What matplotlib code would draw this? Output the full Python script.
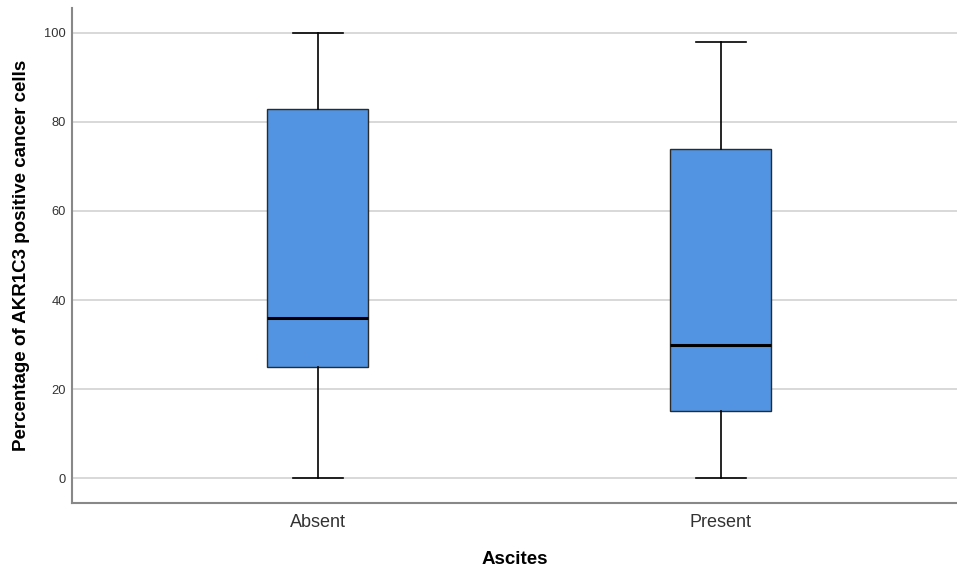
import matplotlib.pyplot as plt

plt.rcParams['font.family'] = ['Liberation Sans', 'DejaVu Sans']

# Ascites groups and their box summaries (% AKR1C3 positive cancer cells)
groups = ['Absent', 'Present']
whisker_low = [0, 0]
q1 = [25, 15]
median = [36, 30]
q3 = [83, 74]
whisker_high = [100, 98]

stats = []
for i, name in enumerate(groups):
    stats.append({
        'label': name,
        'whislo': whisker_low[i],
        'q1': q1[i],
        'med': median[i],
        'q3': q3[i],
        'whishi': whisker_high[i],
        'fliers': [],
    })

fig = plt.figure(figsize=(9.57, 5.70), dpi=100)
ax = fig.add_axes([0.0752, 0.1175, 0.9248, 0.8685])

ax.bxp(stats, positions=[1, 2], widths=0.25, capwidths=0.125,
       showfliers=False, patch_artist=True,
       boxprops=dict(facecolor='#5294e2', edgecolor='#2b2b2b', linewidth=1.0),
       medianprops=dict(color='black', linewidth=2.2),
       whiskerprops=dict(color='black', linewidth=1.2),
       capprops=dict(color='black', linewidth=1.2))

ax.set_xlim(0.39, 2.586)
ax.set_ylim(-5.6, 105.6)
ax.set_yticks([0, 20, 40, 60, 80, 100])
ax.yaxis.grid(True, color='#d2d2d2', linewidth=1.2)
ax.set_axisbelow(True)

for side in ['top', 'right']:
    ax.spines[side].set_visible(False)
for side in ['left', 'bottom']:
    ax.spines[side].set_color('#888888')
    ax.spines[side].set_linewidth(1.5)

ax.tick_params(axis='both', length=0)
ax.tick_params(axis='y', labelsize=9.3, labelcolor='#333333', pad=4.5)
ax.tick_params(axis='x', labelsize=13, labelcolor='#333333', pad=8)

ax.set_xlabel('Ascites', fontsize=13.5, fontweight='bold', labelpad=14)
ax.set_ylabel('Percentage of AKR1C3 positive cancer cells', fontsize=13.5,
              fontweight='bold', labelpad=10)

fig.savefig('out.png', dpi=100)
